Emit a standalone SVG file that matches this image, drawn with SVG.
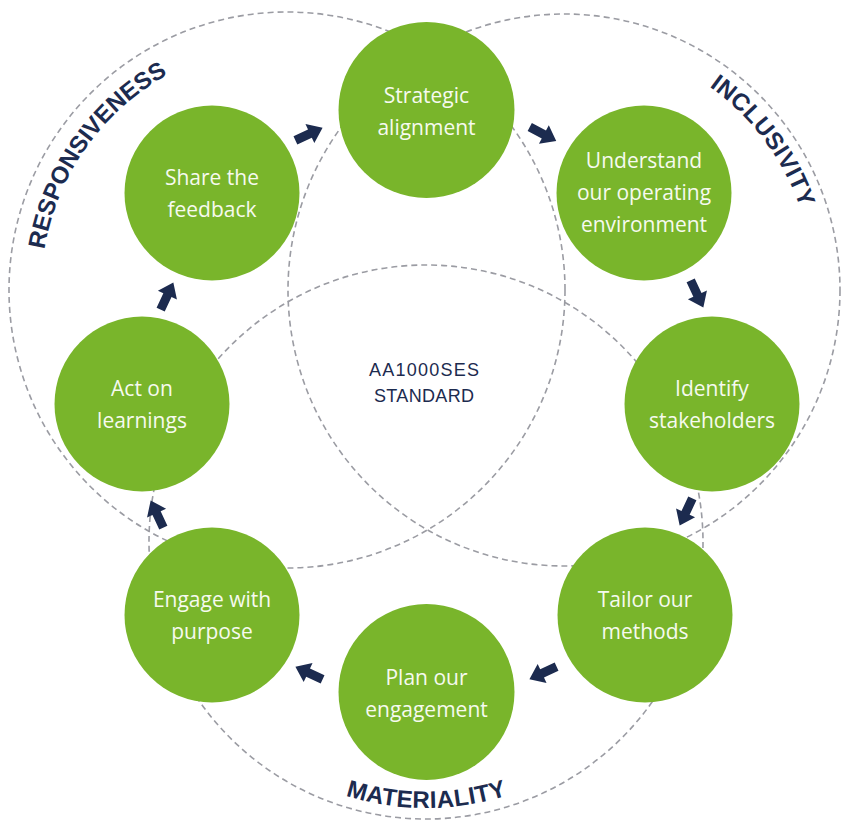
<svg xmlns="http://www.w3.org/2000/svg" xmlns:xlink="http://www.w3.org/1999/xlink" width="855" height="832" viewBox="0 0 855 832">
  <style>
    .ring { fill: none; stroke: #9b9ca3; stroke-width: 1.6; stroke-dasharray: 6 4; }
    .node { fill: #79b52b; }
    .lbl { font-family: "Open Sans", "Liberation Sans", sans-serif; font-size: 21px; fill: #f6faef; text-anchor: middle; }
    .arc { font-family: "Liberation Sans", Arial, sans-serif; font-weight: bold; font-size: 24px; fill: #1c2b4f; }
    .center { font-family: "Liberation Sans", Arial, sans-serif; font-size: 18px; fill: #1c2b4f; text-anchor: middle; }
    .arrow { fill: #1c2b4f; }
  </style>
  <defs>
    <path id="arr" d="M-15,-4.5 L1,-4.5 L1,-10.5 L15,0 L1,10.5 L1,4.5 L-15,4.5 Z"/>
    <path id="pResp" d="M44.4,249.4 A246,246 0 0 1 202,59"/>
    <path id="pIncl" d="M709.2,86.5 A250,250 0 0 1 810.2,246.6"/>
    <path id="pMat" d="M345.6,795.6 A266,266 0 0 0 538.4,783.1"/>
  </defs>
  <rect width="855" height="832" fill="#ffffff"/>

  <g id="rings">
    <circle class="ring" cx="287" cy="290" r="278"/>
    <circle class="ring" cx="564" cy="290" r="276"/>
    <circle class="ring" cx="426" cy="542" r="277"/>
  </g>

  <g id="ring-labels">
    <text class="arc"><textPath xlink:href="#pResp" href="#pResp">RESPONSI</textPath></text>
    <text class="arc"><textPath xlink:href="#pResp" href="#pResp" startOffset="123.6">VENESS</textPath></text>
    <text class="arc"><textPath xlink:href="#pIncl" href="#pIncl" textLength="154" lengthAdjust="spacing">INCLUSIVITY</textPath></text>
    <text class="arc"><textPath xlink:href="#pMat" href="#pMat" textLength="164" lengthAdjust="spacing">MATERIALITY</textPath></text>
  </g>

  <g id="center-label">
    <text class="center" x="424" y="376" textLength="110" lengthAdjust="spacing">AA1000SES</text>
    <text class="center" x="424" y="402" textLength="100" lengthAdjust="spacing">STANDARD</text>
  </g>

  <g id="connectors">
    <use href="#arr" xlink:href="#arr" class="arrow" transform="translate(309,134) rotate(-25)"/>
    <use href="#arr" xlink:href="#arr" class="arrow" transform="translate(543,134) rotate(28)"/>
    <use href="#arr" xlink:href="#arr" class="arrow" transform="translate(697,294) rotate(65)"/>
    <use href="#arr" xlink:href="#arr" class="arrow" transform="translate(686,512) rotate(115)"/>
    <use href="#arr" xlink:href="#arr" class="arrow" transform="translate(543,673) rotate(155)"/>
    <use href="#arr" xlink:href="#arr" class="arrow" transform="translate(309,673) rotate(205)"/>
    <use href="#arr" xlink:href="#arr" class="arrow" transform="translate(157,514) rotate(245)"/>
    <use href="#arr" xlink:href="#arr" class="arrow" transform="translate(167,296) rotate(-65)"/>
  </g>

  <g id="strategic-alignment">
    <circle class="node" cx="426.5" cy="110" r="88"/>
    <text class="lbl" x="426.5" y="103">Strategic</text>
    <text class="lbl" x="426.5" y="135">alignment</text>
  </g>
  <g id="understand-environment">
    <circle class="node" cx="644" cy="193" r="87.5"/>
    <text class="lbl" x="644" y="168">Understand</text>
    <text class="lbl" x="644" y="200">our operating</text>
    <text class="lbl" x="644" y="232">environment</text>
  </g>
  <g id="identify-stakeholders">
    <circle class="node" cx="712" cy="404" r="87.5"/>
    <text class="lbl" x="712" y="396">Identify</text>
    <text class="lbl" x="712" y="428">stakeholders</text>
  </g>
  <g id="tailor-methods">
    <circle class="node" cx="645" cy="615" r="87.5"/>
    <text class="lbl" x="645" y="607">Tailor our</text>
    <text class="lbl" x="645" y="639">methods</text>
  </g>
  <g id="plan-engagement">
    <circle class="node" cx="426.5" cy="692" r="88"/>
    <text class="lbl" x="426.5" y="685">Plan our</text>
    <text class="lbl" x="426.5" y="717">engagement</text>
  </g>
  <g id="engage-purpose">
    <circle class="node" cx="212" cy="615" r="87.5"/>
    <text class="lbl" x="212" y="607">Engage with</text>
    <text class="lbl" x="212" y="639">purpose</text>
  </g>
  <g id="act-learnings">
    <circle class="node" cx="142" cy="404" r="87.5"/>
    <text class="lbl" x="142" y="396">Act on</text>
    <text class="lbl" x="142" y="428">learnings</text>
  </g>
  <g id="share-feedback">
    <circle class="node" cx="212" cy="193" r="87.5"/>
    <text class="lbl" x="212" y="185">Share the</text>
    <text class="lbl" x="212" y="217">feedback</text>
  </g>
</svg>
